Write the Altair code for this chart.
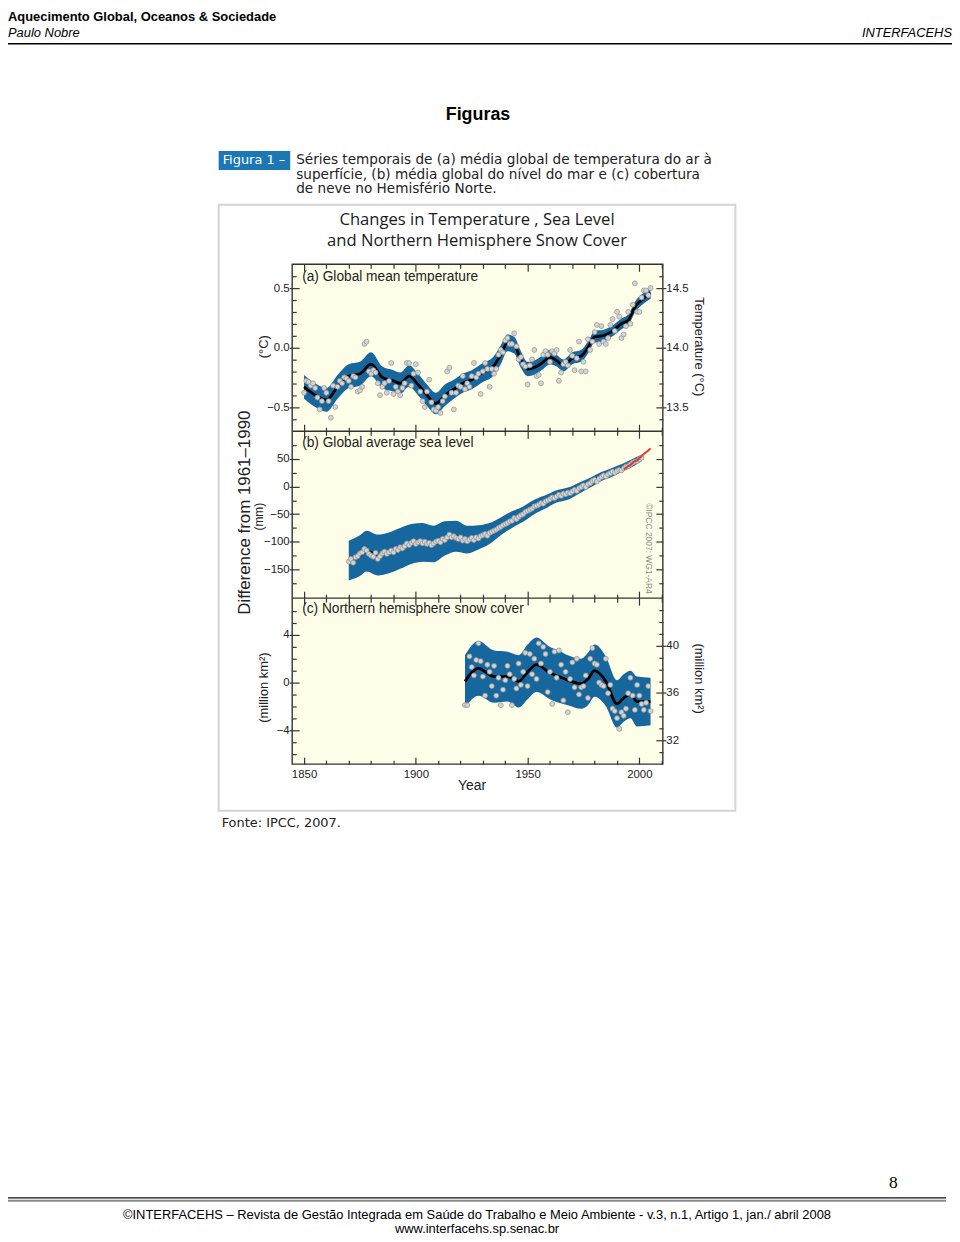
import altair as alt
import pandas as pd

W, H = 950, 1230

# ---------------- data ----------------
# (a) global mean temperature anomaly (deg C, vs 1961-1990)
temp_years = list(range(1850, 2006))
temp_anomaly = [
    -0.38, -0.28, -0.29, -0.32, -0.30, -0.34, -0.42, -0.52, -0.45, -0.34,
    -0.38, -0.45, -0.59, -0.32, -0.50, -0.33, -0.28, -0.30, -0.25, -0.26,
    -0.28, -0.33, -0.24, -0.25, -0.37, -0.36, -0.33, 0.03, 0.05, -0.20,
    -0.22, -0.19, -0.21, -0.30, -0.40, -0.33, -0.30, -0.38, -0.28, -0.13,
    -0.39, -0.33, -0.37, -0.40, -0.34, -0.30, -0.13, -0.13, -0.32, -0.22,
    -0.14, -0.21, -0.37, -0.45, -0.50, -0.37, -0.27, -0.46, -0.52, -0.53,
    -0.50, -0.55, -0.45, -0.41, -0.20, -0.17, -0.38, -0.52, -0.38, -0.32,
    -0.33, -0.24, -0.35, -0.30, -0.33, -0.24, -0.13, -0.25, -0.22, -0.39,
    -0.20, -0.13, -0.18, -0.33, -0.18, -0.22, -0.18, -0.06, -0.02, -0.04,
    0.06, 0.08, 0.03, 0.03, 0.12, 0.01, -0.10, -0.08, -0.14, -0.16,
    -0.31, -0.15, -0.10, -0.02, -0.24, -0.23, -0.30, -0.06, -0.03, -0.06,
    -0.12, -0.03, -0.05, -0.02, -0.28, -0.21, -0.14, -0.12, -0.15, -0.02,
    -0.07, -0.19, -0.09, 0.05, -0.20, -0.12, -0.20, 0.07, -0.02, 0.05,
    0.13, 0.19, 0.03, 0.18, 0.05, 0.03, 0.08, 0.19, 0.24, 0.14,
    0.30, 0.26, 0.08, 0.11, 0.18, 0.30, 0.20, 0.36, 0.54, 0.30,
    0.30, 0.42, 0.48, 0.48, 0.44, 0.50,
]
temp_smooth_years = [1850, 1855, 1860, 1865, 1870, 1875, 1880, 1885, 1890, 1893,
                     1897, 1901, 1905, 1909, 1913, 1917, 1921, 1925, 1930, 1935,
                     1938, 1941, 1944, 1947, 1950, 1954, 1957, 1960, 1963, 1966,
                     1970, 1974, 1977, 1980, 1984, 1988, 1992, 1995, 1998, 2001,
                     2005]
temp_smooth = [-0.33, -0.40, -0.44, -0.33, -0.24, -0.22, -0.14, -0.25, -0.28, -0.30,
               -0.24, -0.31, -0.40, -0.47, -0.40, -0.35, -0.30, -0.27, -0.21, -0.15,
               -0.06, 0.04, 0.02, -0.10, -0.18, -0.16, -0.12, -0.08, -0.11, -0.15,
               -0.09, -0.07, 0.00, 0.09, 0.10, 0.14, 0.20, 0.23, 0.34, 0.40,
               0.46]
temp_halfwidth = [0.10, 0.10, 0.10, 0.10, 0.10, 0.10, 0.10, 0.09, 0.09, 0.09,
                  0.09, 0.09, 0.09, 0.09, 0.09, 0.08, 0.08, 0.08, 0.08, 0.08,
                  0.08, 0.07, 0.07, 0.07, 0.06, 0.06, 0.06, 0.06, 0.05, 0.05,
                  0.05, 0.05, 0.05, 0.05, 0.05, 0.045, 0.045, 0.045, 0.045, 0.045,
                  0.05]

# (b) global average sea level (mm, vs 1961-1990)
sea_years = list(range(1870, 2002))
sea_level = [
    -136, -131, -138, -128, -126, -121, -119, -113, -116, -122,
    -125, -127, -120, -131, -126, -121, -118, -122, -119, -116,
    -119, -113, -115, -110, -112, -108, -103, -106, -102, -99,
    -104, -101, -99, -103, -100, -104, -102, -106, -103, -100,
    -98, -101, -95, -97, -92, -87, -92, -90, -93, -95,
    -92, -98, -95, -99, -96, -93, -97, -92, -94, -90,
    -88, -86, -89, -84, -82, -80, -78, -75, -73, -70,
    -68, -66, -63, -62, -57, -59, -55, -52, -50, -46,
    -44, -42, -40, -36, -35, -33, -30, -31, -27, -25,
    -23, -20, -21, -18, -15, -17, -13, -14, -11, -12,
    -9, -6, -8, -3, -1, 2, -1, 4, 6, 10,
    12, 9, 14, 17, 20, 18, 22, 24, 27, 25,
    28, 30, 29, 33, 36, 37, 40, 43, 45, 46,
    49, 52,
]
sea_smooth_years = [1870, 1875, 1878, 1883, 1888, 1893, 1898, 1903, 1908, 1913,
                    1918, 1923, 1928, 1933, 1938, 1943, 1948, 1953, 1958, 1963,
                    1968, 1973, 1978, 1983, 1988, 1993, 1998, 2001]
sea_smooth = [-134, -125, -117, -124, -120, -112, -104, -101, -104, -94,
              -90, -96, -92, -85, -72, -60, -50, -37, -28, -18,
              -13, -3, 7, 18, 26, 35, 45, 52]
sea_halfwidth = [36, 37, 37, 37, 37, 37, 36, 35, 33, 31,
                 28, 25, 22, 19, 16, 15, 14, 13, 12, 11,
                 11, 10, 9, 8, 8, 7, 7, 6]
sat_years = list(range(1993, 2006))
sat_level = [31, 34, 37, 39, 43, 46, 47, 51, 55, 59, 62, 65, 69]

# (c) northern hemisphere snow cover (million km2, vs 1961-1990)
snow_years = list(range(1922, 2006))
snow_anomaly = [
    -1.9, -1.9, 2.2, 1.3, 0.6, 1.9, 3.3, 1.8,
    0.5, -1.1, 1.5, 0.9, -0.3, 1.4, -1.1, 0.4, -1.9, -0.6,
    0.2, 1.4, 0.7, -1.9, 0.3, -0.5, 1.6, -0.2, 0.9, 2.5,
    -0.3, 2.4, 0.7, 2.0, 0.3, 3.3, 1.6, 3.0, 2.4, -0.8,
    0.9, -1.8, 2.6, 0.4, 2.7, 1.5, -1.5, 0.9, -2.5, 0.3,
    1.7, -0.4, 2.0, -1.0, -0.4, -0.3, 0.6, -1.3, 2.0, 2.9,
    1.6, 1.5, 0.0, -0.2, -0.3, 2.0, -0.9, -0.2, -2.2, -2.4,
    -3.0, -3.9, -2.5, -2.8, -2.2, -0.9, 0.4, -1.1, -2.3, -0.2,
    -1.1, -1.8, -2.3, -1.7, -0.3, -2.4,
]
snow_smooth_years = [1922, 1928, 1935, 1941, 1946, 1950, 1954, 1960, 1964, 1968,
                     1974, 1977, 1980, 1985, 1990, 1993, 1996, 1999, 2005]
snow_smooth = [0.1, 1.2, 0.5, 0.5, 0.1, 0.9, 1.5, 0.8, 0.5, 0.2,
               -0.1, 0.3, 1.0, 0.1, -1.8, -1.3, -1.0, -1.6, -1.6]
snow_halfwidth = [2.2, 2.3, 2.2, 2.1, 2.2, 2.3, 2.3, 2.2, 2.2, 2.1,
                  2.1, 2.2, 2.2, 2.1, 2.0, 2.0, 2.0, 2.1, 2.0]

# tick values
x_ticks = [1850, 1860, 1870, 1880, 1890, 1900, 1910, 1920, 1930, 1940,
           1950, 1960, 1970, 1980, 1990, 2000, 2010]
x_labels = [1850, 1900, 1950, 2000]
a_labels = [-0.5, 0.0, 0.5]
a_minor = [-0.6, -0.5, -0.4, -0.3, -0.2, -0.1, 0.0, 0.1, 0.2, 0.3, 0.4, 0.5, 0.6]
a_right_labels = [13.5, 14.0, 14.5]
a_right_minor = [13.4, 13.5, 13.6, 13.7, 13.8, 13.9, 14.0, 14.1, 14.2, 14.3, 14.4, 14.5, 14.6]
b_labels = [-150, -100, -50, 0, 50]
b_minor = [-175, -150, -125, -100, -75, -50, -25, 0, 25, 50, 75]
c_labels = [-4, 0, 4]
c_minor = [-6, -5, -4, -3, -2, -1, 0, 1, 2, 3, 4, 5, 6]
c_right_labels = [32, 36, 40]
c_right_minor = [31, 32, 33, 34, 35, 36, 37, 38, 39, 40, 41, 42, 43]

# ---------------- styles ----------------
BLUE = "#15679d"
BG = "#FFFEE8"
FRAME = "#333333"
SANS = "Liberation Sans"

XS = alt.Scale(domain=[1844.7, 2010.5], range=[286, 659], nice=False, zero=False)
YA = alt.Scale(domain=[-0.703, 0.70], range=[422, 254], nice=False, zero=False)
YA_R = alt.Scale(domain=[13.297, 14.70], range=[422, 254], nice=False, zero=False)
YB = alt.Scale(domain=[-202, 100], range=[590, 422], nice=False, zero=False)
YC = alt.Scale(domain=[-6.86, 7.1], range=[757, 590], nice=False, zero=False)
YC_R = alt.Scale(domain=[30.02, 43.98], range=[757, 590], nice=False, zero=False)


def smooth_df(years, vals, hw):
    return pd.DataFrame({"year": years, "v": vals,
                         "lo": [a - b for a, b in zip(vals, hw)],
                         "hi": [a + b for a, b in zip(vals, hw)]})


def series_layers(sm, pts, ys):
    band = alt.Chart(sm).mark_area(color=BLUE, interpolate="monotone").encode(
        x=alt.X("year:Q", scale=XS, axis=None),
        y=alt.Y("lo:Q", scale=ys, axis=None), y2="hi:Q")
    line = alt.Chart(sm).mark_line(color="black", strokeWidth=2.8, interpolate="monotone").encode(
        x=alt.X("year:Q", scale=XS, axis=None),
        y=alt.Y("v:Q", scale=ys, axis=None))
    dots = alt.Chart(pts).mark_circle(size=24, color="#d4d4d4", stroke="#979797",
                                      strokeWidth=0.8, opacity=1).encode(
        x=alt.X("year:Q", scale=XS, axis=None),
        y=alt.Y("v:Q", scale=ys, axis=None))
    return [band, line, dots]


def ax(**kw):
    base = dict(domain=False, grid=False, tickColor=FRAME, tickWidth=1.2,
                labelFont=SANS, labelFontSize=11.5, labelColor="#222222",
                title=None, zindex=3, labelFlush=False, labelOverlap=False)
    base.update(kw)
    return alt.Axis(**base)


def tsize(test, major=7, minor=4):
    return {"condition": {"test": test, "value": major}, "value": minor}


def y_axis(vals, scale, **kw):
    return alt.Chart(pd.DataFrame({"v": vals})).mark_point(opacity=0).encode(
        x=alt.value(0), y=alt.Y("v:Q", scale=scale, axis=ax(values=vals, **kw)))


def x_axis(vals, **kw):
    return alt.Chart(pd.DataFrame({"v": vals})).mark_point(opacity=0).encode(
        y=alt.value(0), x=alt.X("v:Q", scale=XS, axis=ax(values=vals, **kw)))


def rect(x1, y1, x2, y2, **kw):
    return alt.Chart(pd.DataFrame({"k": [0]})).mark_rect(**kw).encode(
        x=alt.value(x1), x2=alt.value(x2), y=alt.value(y1), y2=alt.value(y2))


def rule(x1, x2, y, color="black", width=1.0):
    return alt.Chart(pd.DataFrame({"k": [0]})).mark_rule(color=color, strokeWidth=width).encode(
        x=alt.value(x1), x2=alt.value(x2), y=alt.value(y))


def text(s, x, y, size, font=SANS, weight="normal", style="normal", align="left",
         angle=0, color="#222222"):
    props = dict(align=align, baseline="middle", font=font, fontSize=size,
                 fontWeight=weight, fontStyle=style, color=color)
    if angle:
        props["angle"] = angle
    return alt.Chart(pd.DataFrame({"t": [s]})).mark_text(**props).encode(
        x=alt.value(x), y=alt.value(y), text="t:N")


layers = []
# page decorations
layers.append(rule(0, 950, 32, color="black", width=1.6))
layers.append(rect(212, 194, 732, 804, fill="white", stroke="#d4d4d4", strokeWidth=2))
layers.append(rect(212, 140, 284, 159, fill="#1b78b4"))
layers.append(rect(286, 254, 659, 757, fill=BG))

# data
layers += series_layers(smooth_df(temp_smooth_years, temp_smooth, temp_halfwidth),
                        pd.DataFrame({"year": temp_years, "v": temp_anomaly}), YA)
layers += series_layers(smooth_df(sea_smooth_years, sea_smooth, sea_halfwidth),
                        pd.DataFrame({"year": sea_years, "v": sea_level}), YB)
layers.append(alt.Chart(pd.DataFrame({"year": sat_years, "v": sat_level})).mark_line(
    color="#e03a2a", strokeWidth=2).encode(
    x=alt.X("year:Q", scale=XS, axis=None), y=alt.Y("v:Q", scale=YB, axis=None)))
layers += series_layers(smooth_df(snow_smooth_years, snow_smooth, snow_halfwidth),
                        pd.DataFrame({"year": snow_years, "v": snow_anomaly}), YC)

# frame
layers.append(rect(286, 254, 659, 757, fill="white", fillOpacity=0, stroke=FRAME, strokeWidth=1.4))
layers.append(rule(286, 659, 422, color=FRAME, width=1.4))
layers.append(rule(286, 659, 590, color=FRAME, width=1.4))

# axes -- panel (a)
A_MAJ = "abs(datum.value * 2 - round(datum.value * 2)) < 0.001"
layers.append(y_axis(a_labels, YA, orient="left", offset=-286, format=".1f", tickSize=3, labelPadding=0))
layers.append(y_axis(a_minor, YA, orient="right", offset=286 - W, labels=False, tickSize=tsize(A_MAJ)))
layers.append(y_axis(a_right_labels, YA_R, orient="right", offset=659 - W, format=".1f", tickSize=3, labelPadding=0))
layers.append(y_axis(a_right_minor, YA_R, orient="left", offset=-659, labels=False, tickSize=tsize(A_MAJ)))
# panel (b)
B_MAJ = "datum.value % 50 === 0"
layers.append(y_axis(b_labels, YB, orient="left", offset=-286, format="d", tickSize=3, labelPadding=0))
layers.append(y_axis(b_minor, YB, orient="right", offset=286 - W, labels=False, tickSize=tsize(B_MAJ)))
layers.append(y_axis(b_minor, YB, orient="left", offset=-659, labels=False, tickSize=tsize(B_MAJ)))
# panel (c)
C_MAJ = "datum.value % 4 === 0"
layers.append(y_axis(c_labels, YC, orient="left", offset=-286, format="d", tickSize=3, labelPadding=0))
layers.append(y_axis(c_minor, YC, orient="right", offset=286 - W, labels=False, tickSize=tsize(C_MAJ)))
layers.append(y_axis(c_right_labels, YC_R, orient="right", offset=659 - W, format="d", tickSize=3, labelPadding=0))
layers.append(y_axis(c_right_minor, YC_R, orient="left", offset=-659, labels=False, tickSize=tsize(C_MAJ)))
# x ticks on every panel border
X_MAJ = "datum.value % 50 === 0"
layers.append(x_axis(x_ticks, orient="bottom", offset=254 - H, labels=False, tickSize=tsize(X_MAJ)))
layers.append(x_axis(x_ticks, orient="top", offset=-422, labels=False, tickSize=tsize(X_MAJ)))
layers.append(x_axis(x_ticks, orient="bottom", offset=422 - H, labels=False, tickSize=tsize(X_MAJ)))
layers.append(x_axis(x_ticks, orient="top", offset=-590, labels=False, tickSize=tsize(X_MAJ)))
layers.append(x_axis(x_ticks, orient="bottom", offset=590 - H, labels=False, tickSize=tsize(X_MAJ)))
layers.append(x_axis(x_ticks, orient="top", offset=-757, labels=False, tickSize=tsize(X_MAJ)))
layers.append(x_axis(x_labels, orient="bottom", offset=757 - H, format="d", tickSize=0, labelPadding=4))

# texts
DJ = "DejaVu Sans"
layers += [
    text("Aquecimento Global, Oceanos & Sociedade", 0, 5, 13, weight="bold", color="black"),
    text("Paulo Nobre", 0, 21, 13, style="italic", color="black"),
    text("INTERFACEHS", 950, 21, 13, style="italic", align="right", color="black"),
    text("Figuras", 473, 104, 18, weight="bold", align="center", color="black"),
    text("Figura 1 –", 216, 149.5, 13, font=DJ, color="white"),
    text("Séries temporais de (a) média global de temperatura do ar à", 290, 149, 13.7, font=DJ),
    text("superfície, (b) média global do nível do mar e (c) cobertura", 290, 164, 13.7, font=DJ),
    text("de neve no Hemisfério Norte.", 290, 178, 13.7, font=DJ),
    text("Changes in Temperature , Sea Level", 472, 209, 16.7, font="Open Sans", align="center", color="#1a1a1a"),
    text("and Northern Hemisphere Snow Cover", 472, 231, 16.7, font="Open Sans", align="center", color="#1a1a1a"),
    text("(a) Global mean temperature", 296, 267, 13.8),
    text("(b) Global average sea level", 296, 434, 13.8),
    text("(c) Northern hemisphere snow cover", 296, 601, 13.8),
    text("Difference from 1961–1990", 239, 504, 17, align="center", angle=270),
    text("(°C)", 258, 337, 13, align="center", angle=270),
    text("(mm)", 253, 508, 12, align="center", angle=270),
    text("(million km²)", 258, 680, 13, align="center", angle=270),
    text("Temperature (°C)", 695, 337, 13, align="center", angle=90),
    text("(million km²)", 695, 671, 13, align="center", angle=90),
    text("©IPCC 2007: WG1-AR4", 645, 540, 8.5, align="center", angle=90, color="#8a8a8a"),
    text("Year", 467, 779, 14, align="center"),
    text("Fonte: IPCC, 2007.", 215, 816, 13, font=DJ),
    text("8", 891, 1179, 17.5, font="Liberation Serif", align="center", color="black"),
    text("©INTERFACEHS – Revista de Gestão Integrada em Saúde do Trabalho e Meio Ambiente - v.3, n.1, Artigo 1, jan./ abril 2008",
         472, 1211, 13, align="center", color="black"),
    text("www.interfacehs.sp.senac.br", 472, 1225, 13, align="center", color="black"),
]
layers.append(rule(0, 944, 1193.5, color="#111111", width=1.3))
layers.append(rule(0, 944, 1196.5, color="#8a8a8a", width=2))

chart = alt.layer(*layers).resolve_scale(
    x="independent", y="independent"
).resolve_axis(
    x="independent", y="independent"
).properties(
    width=W, height=H, autosize="none", padding=0
).configure_view(stroke=None)

chart.save("out.html", embed_options={"renderer": "svg", "actions": False})
